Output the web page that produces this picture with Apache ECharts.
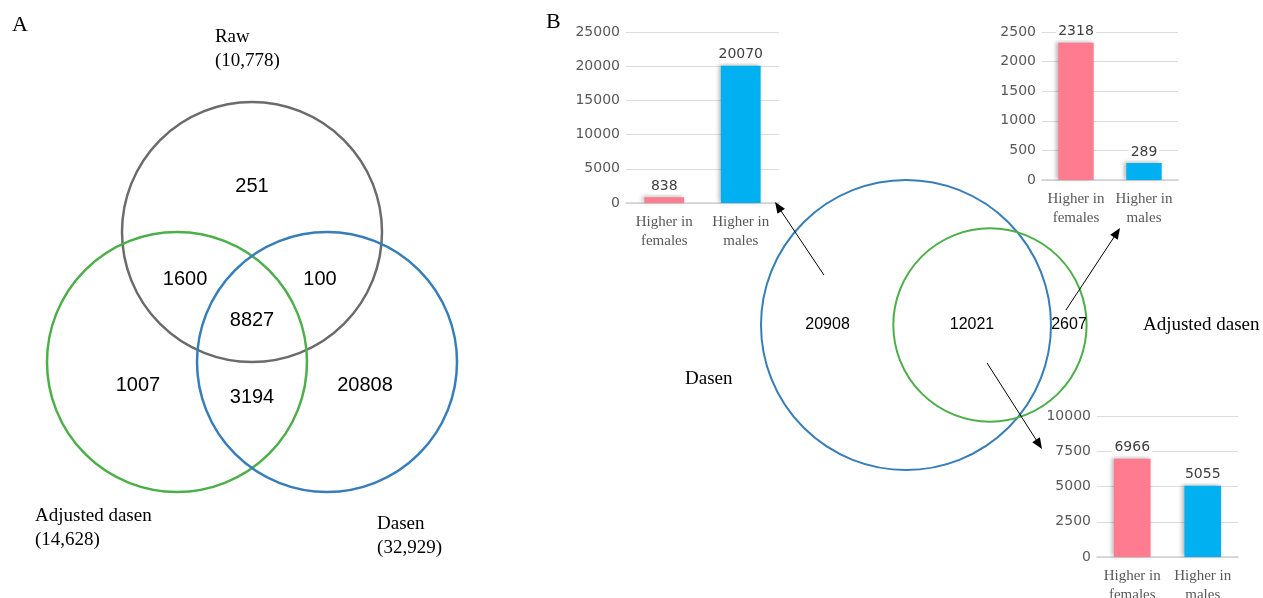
<!DOCTYPE html>
<html>
<head>
<meta charset="utf-8">
<script src="https://cdn.jsdelivr.net/npm/echarts@6/dist/echarts.min.js"></script>
<style>
  html, body { margin: 0; padding: 0; background: #ffffff; }
  #chart { width: 1263px; height: 598px; }
</style>
</head>
<body>
<div id="chart"></div>
<script>
// ---- Panel A: three-way overlap of the gene sets ----
const setNamesA = ['Raw', 'Adjusted dasen', 'Dasen'];
const setTotalsA = ['10,778', '14,628', '32,929'];
// regions: Raw only, Raw∩Adj, Raw∩Dasen, all three, Adj only, Adj∩Dasen, Dasen only
const regionCountsA = ['251', '1600', '100', '8827', '1007', '3194', '20808'];

// ---- Panel B: two-way overlap ----
const setNamesB = ['Dasen', 'Adjusted dasen'];
const setTotalsB = [32929, 14628];
// regions: Dasen only, shared, Adjusted dasen only
const regionCountsB = ['20908', '12021', '2607'];

// ---- Sex-biased counts in each region ----
const barCategories = ['Higher in\nfemales', 'Higher in\nmales'];
const dasenOnlyCounts = [838, 20070];
const adjustedOnlyCounts = [2318, 289];
const sharedCounts = [6966, 5055];
const dasenOnlyAxis = { max: 25000, interval: 5000 };
const adjustedOnlyAxis = { max: 2500, interval: 500 };
const sharedAxis = { max: 10000, interval: 2500 };

// ---- drawing layout (units of one circle radius) ----
const layoutA = {
  centers: [[0, 1], [-0.577, 0], [0.577, 0]],
  colors: ['#6b6b6b', '#4daf4a', '#377eb8'],
  regionPos: [[0, 1.35], [-0.515, 0.631], [0.523, 0.631], [0, 0.323], [-0.877, -0.177], [0, -0.27], [0.869, -0.177]],
  namePos: [[-0.285, 2.404], [-1.669, -1.277], [0.962, -1.335]]
};
const layoutB = {
  centers: [[0, 0], [0.579, 0]],
  colors: ['#377eb8', '#4daf4a'],
  regionPos: [[-0.541, 0], [0.455, 0], [1.124, 0]],
  namePos: [[-1.524, -0.372], [1.634, 0]],
  // arrows from each region to its bar chart
  arrows: [[-0.566, 0.345, -0.903, 0.848], [1.103, 0.103, 1.476, 0.669], [0.559, -0.262, 0.938, -0.855]]
};
const barColors = ['#ff7b8f', '#00b0f0'];

const SERIF = '"Liberation Serif", "Times New Roman", serif';
const SANS = '"Liberation Sans", Arial, sans-serif';
const DJV = '"DejaVu Sans", sans-serif';

function circleSeries(gridIdx, circles, colors, width) {
  return {
    type: 'custom', xAxisIndex: gridIdx, yAxisIndex: gridIdx, clip: false, silent: true,
    data: circles,
    renderItem: function (params, api) {
      const c = api.coord([api.value(0), api.value(1)]);
      const r = api.size([api.value(2), 0])[0];
      return { type: 'circle', shape: { cx: c[0], cy: c[1], r: r },
        style: { fill: 'none', stroke: colors[params.dataIndex], lineWidth: width } };
    }
  };
}

function textSeries(gridIdx, positions, texts, font, size, align, lineHeight) {
  return {
    type: 'custom', xAxisIndex: gridIdx, yAxisIndex: gridIdx, clip: false, silent: true,
    data: positions,
    renderItem: function (params, api) {
      const p = api.coord([api.value(0), api.value(1)]);
      return { type: 'text', x: p[0], y: p[1],
        style: { text: texts[params.dataIndex], fontFamily: font, fontSize: size, fill: '#000',
          align: align, verticalAlign: 'middle', lineHeight: lineHeight } };
    }
  };
}

function arrowSeries(gridIdx, arrows) {
  return {
    type: 'custom', xAxisIndex: gridIdx, yAxisIndex: gridIdx, clip: false, silent: true,
    data: arrows,
    renderItem: function (params, api) {
      const a = api.coord([api.value(0), api.value(1)]);
      const b = api.coord([api.value(2), api.value(3)]);
      const dx = b[0] - a[0], dy = b[1] - a[1];
      const len = Math.hypot(dx, dy), ux = dx / len, uy = dy / len;
      const hl = 11, hw = 4.5;
      const base = [b[0] - ux * hl, b[1] - uy * hl];
      return { type: 'group', children: [
        { type: 'line', shape: { x1: a[0], y1: a[1], x2: base[0] + ux * 2, y2: base[1] + uy * 2 },
          style: { stroke: '#000', lineWidth: 1 } },
        { type: 'polygon', shape: { points: [b, [base[0] - uy * hw, base[1] + ux * hw], [base[0] + uy * hw, base[1] - ux * hw]] },
          style: { fill: '#000' } }
      ] };
    }
  };
}

function barSeries(gridIdx, values) {
  return {
    type: 'bar', xAxisIndex: gridIdx, yAxisIndex: gridIdx, barWidth: '52%', silent: true,
    data: values,
    itemStyle: {
      color: function (p) { return barColors[p.dataIndex]; },
      shadowColor: 'rgba(0,0,0,0.28)', shadowBlur: 4, shadowOffsetX: -2, shadowOffsetY: -1
    },
    label: { show: true, position: 'top', distance: 3, color: '#404040', fontFamily: DJV, fontSize: 14,
      backgroundColor: '#ffffff', padding: [1, 2] }
  };
}

function barAxes(gridIdx, axisCfg) {
  return {
    x: { type: 'category', gridIndex: gridIdx, data: barCategories,
      axisLine: { lineStyle: { color: '#d0d0d0', width: 1.5 } }, axisTick: { show: false },
      axisLabel: { color: '#595959', fontFamily: SERIF, fontSize: 15, lineHeight: 19, margin: 10, interval: 0 } },
    y: { type: 'value', gridIndex: gridIdx, min: 0, max: axisCfg.max, interval: axisCfg.interval,
      axisLine: { show: false }, axisTick: { show: false },
      splitLine: { lineStyle: { color: '#dcdcdc', width: 1 } },
      axisLabel: { color: '#595959', fontFamily: DJV, fontSize: 14, margin: 6,
        formatter: function (v) { return String(v); } } }
  };
}

const radiusA = 1;
const circlesA = layoutA.centers.map(c => [c[0], c[1], radiusA]);
const circlesB = layoutB.centers.map((c, i) => [c[0], c[1], Math.sqrt(setTotalsB[i] / setTotalsB[0])]);
const nameTextsA = setNamesA.map((n, i) => n + '\n(' + setTotalsA[i] + ')');

const bars = [barAxes(2, dasenOnlyAxis), barAxes(3, adjustedOnlyAxis), barAxes(4, sharedAxis)];

const hiddenValueAxis = (gridIdx, min, max) => ({ type: 'value', gridIndex: gridIdx, min: min, max: max, show: false });
const gridBox = (left, top, width, height) => ({ left, top, width, height, containLabel: false, outerBoundsMode: 'none' });

const option = {
  animation: false,
  backgroundColor: '#ffffff',
  title: [
    { text: 'A', left: 12, top: 14, padding: 0, textStyle: { fontFamily: SERIF, fontSize: 22, fontWeight: 'normal', color: '#000' } },
    { text: 'B', left: 546, top: 11, padding: 0, textStyle: { fontFamily: SERIF, fontSize: 22, fontWeight: 'normal', color: '#000' } }
  ],
  grid: [
    gridBox(18, 63, 468, 468),
    gridBox(732, 151, 406, 348),
    gridBox(626, 32, 153, 171),
    gridBox(1042, 32, 136, 148),
    gridBox(1097, 416, 141, 141)
  ],
  xAxis: [
    hiddenValueAxis(0, -1.8, 1.8),
    hiddenValueAxis(1, -1.2, 1.6),
    bars[0].x, bars[1].x, bars[2].x
  ],
  yAxis: [
    hiddenValueAxis(0, -1.3, 2.3),
    hiddenValueAxis(1, -1.2, 1.2),
    bars[0].y, bars[1].y, bars[2].y
  ],
  series: [
    circleSeries(0, circlesA, layoutA.colors, 2.5),
    textSeries(0, layoutA.regionPos, regionCountsA, SANS, 20, 'center', 24),
    textSeries(0, layoutA.namePos, nameTextsA, SERIF, 19, 'left', 24),
    circleSeries(1, circlesB, layoutB.colors, 2),
    textSeries(1, layoutB.regionPos, regionCountsB, SANS, 16, 'center', 20),
    textSeries(1, layoutB.namePos, setNamesB, SERIF, 19, 'left', 22),
    arrowSeries(1, layoutB.arrows),
    barSeries(2, dasenOnlyCounts),
    barSeries(3, adjustedOnlyCounts),
    barSeries(4, sharedCounts)
  ]
};

const chart = echarts.init(document.getElementById('chart'));
chart.setOption(option);
</script>
</body>
</html>
